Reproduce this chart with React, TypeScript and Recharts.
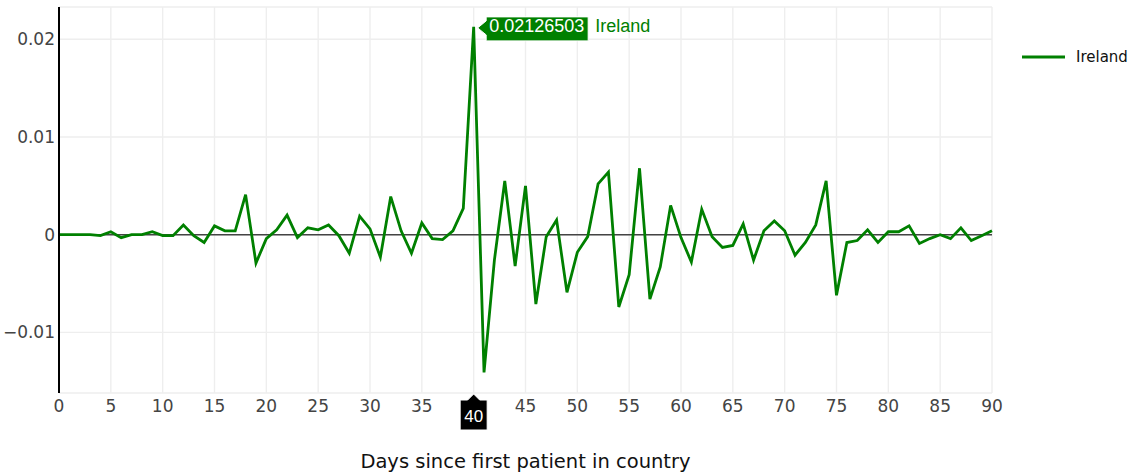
import React from "react";
import {
  CartesianGrid,
  Legend,
  Line,
  LineChart,
  ReferenceDot,
  ReferenceLine,
  XAxis,
  YAxis,
} from "recharts";

const seriesName = "Ireland";

const days = Array.from({ length: 91 }, (_, i) => i);

const irelandValues = [
  0, 0, 0, 0, -0.0001, 0.0003, -0.0003, 0, 0, 0.0003,
  -0.0001, -0.0001, 0.001, -0.0001, -0.0008, 0.0009, 0.0004, 0.0004, 0.0041, -0.0029,
  -0.0004, 0.0005, 0.002, -0.0003, 0.0007, 0.0005, 0.001, -0.0001, -0.0019, 0.0019,
  0.0006, -0.0023, 0.0039, 0.0004, -0.0019, 0.0012, -0.0004, -0.0005, 0.0004, 0.0027,
  0.02126503, -0.0141, -0.0026, 0.0055, -0.0032, 0.005, -0.0071, -0.0002, 0.0015, -0.0059,
  -0.0018, -0.0002, 0.0052, 0.0064, -0.0074, -0.0041, 0.0068, -0.0066, -0.0033, 0.003,
  -0.0003, -0.0028, 0.0026, -0.0002, -0.0013, -0.0011, 0.0011, -0.0026, 0.0004, 0.0014,
  0.0004, -0.0021, -0.0008, 0.001, 0.0055, -0.0062, -0.0008, -0.0006, 0.0005, -0.0008,
  0.0003, 0.0003, 0.0009, -0.0009, -0.0004, 0, -0.0004, 0.0007, -0.0006, -0.0001,
  0.0004,
];

const xTicks = [0, 5, 10, 15, 20, 25, 30, 35, 40, 45, 50, 55, 60, 65, 70, 75, 80, 85, 90];
const yTicks = [-0.01, 0, 0.01, 0.02];
const yDomain = [-0.0162, 0.0233];

const hoverDay = 40;
const hoverValue = 0.02126503;

const data = days.map((d, i) => ({ day: d, value: irelandValues[i] }));

const green = "#008000";
const tickFont = "'DejaVu Sans', Verdana, sans-serif";
const hoverFont = "'Liberation Sans', Arial, sans-serif";

const formatY = (v: number) => (v < 0 ? "\u2212" + String(-v) : String(v));
// the hover label sits on top of the tick for the hovered day
const formatX = (v: number) => (v === hoverDay ? "" : String(v));

const HoverLabel = (props: any) => {
  const { cx, cy } = props;
  const bx = cx + 12.5;
  return (
    <g>
      <path
        d={`M${cx + 4},${cy + 1} L${bx},${cy - 6} V${cy - 10} H${bx + 102} V${cy + 14} H${bx} V${cy + 8} Z`}
        fill={green}
        stroke="#fff"
        strokeWidth={1}
      />
      <text x={bx + 3} y={cy + 5.5} fill="#fff" fontFamily={hoverFont} fontSize={18}>
        {String(hoverValue)}
      </text>
      <text x={bx + 109} y={cy + 5.5} fill={green} fontFamily={hoverFont} fontSize={18}>
        {seriesName}
      </text>
    </g>
  );
};

const AxisHoverLabel = (props: any) => {
  const { cx, cy } = props;
  return (
    <g>
      <path
        d={`M${cx},${cy + 1} L${cx + 6},${cy + 7} H${cx + 13.5} V${cy + 37} H${cx - 13.5} V${cy + 7} H${cx - 6} Z`}
        fill="#000"
        stroke="#fff"
        strokeWidth={1}
      />
      <text x={cx} y={cy + 29} fill="#fff" fontFamily={hoverFont} fontSize={17} textAnchor="middle">
        {String(hoverDay)}
      </text>
    </g>
  );
};

const LegendContent = () => (
  <svg width={120} height={24}>
    <line x1={7} y1={12} x2={50} y2={12} stroke={green} strokeWidth={2.8} />
    <text x={61} y={17} fill="#111" fontFamily={tickFont} fontSize={15}>
      {seriesName}
    </text>
  </svg>
);

export default function App() {
  return (
    <div style={{ position: "absolute", left: 0, top: 0, width: 1135, height: 475, background: "#fff" }}>
      <LineChart
        width={1135}
        height={475}
        data={data}
        margin={{ top: 7, right: 143, bottom: 0, left: 0 }}
      >
        <CartesianGrid stroke="#eeeeee" strokeWidth={1.4} />
        <XAxis
          dataKey="day"
          type="number"
          domain={[0, 90]}
          ticks={xTicks}
          interval={0}
          height={82}
          axisLine={false}
          tickLine={false}
          tickSize={0}
          tickMargin={7}
          tickFormatter={formatX}
          tick={{ fill: "#444", fontFamily: tickFont, fontSize: 17 }}
          label={{
            value: "Days since first patient in country",
            position: "insideBottom",
            offset: 7,
            fill: "#111",
            fontFamily: tickFont,
            fontSize: 19.5,
          }}
        />
        <YAxis
          type="number"
          domain={yDomain}
          ticks={yTicks}
          interval={0}
          width={59}
          allowDataOverflow
          axisLine={{ stroke: "#000", strokeWidth: 2 }}
          tickLine={false}
          tickSize={0}
          tickMargin={4}
          tickFormatter={formatY}
          tick={{ fill: "#444", fontFamily: tickFont, fontSize: 17 }}
        />
        <ReferenceLine y={0} stroke="#444" strokeWidth={1.4} />
        <Legend
          layout="vertical"
          align="center"
          verticalAlign="middle"
          content={<LegendContent />}
          wrapperStyle={{ left: 1015, top: 45, width: 120, height: 24 }}
        />
        <Line
          type="linear"
          dataKey="value"
          name={seriesName}
          stroke={green}
          strokeWidth={2.8}
          dot={false}
          activeDot={false}
          isAnimationActive={false}
        />
        <ReferenceDot x={hoverDay} y={hoverValue} shape={<HoverLabel />} ifOverflow="visible" />
        <ReferenceDot x={hoverDay} y={yDomain[0]} shape={<AxisHoverLabel />} ifOverflow="visible" />
      </LineChart>
    </div>
  );
}
